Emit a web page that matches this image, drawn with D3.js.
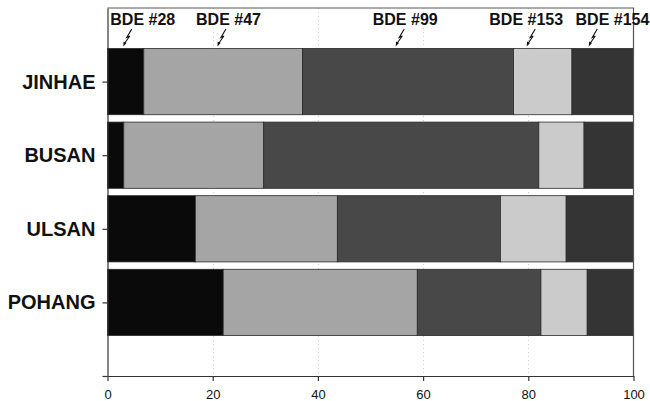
<!DOCTYPE html>
<html>
<head>
<meta charset="utf-8">
<script src="https://cdn.jsdelivr.net/npm/d3@7"></script>
<style>
  html, body { margin: 0; padding: 0; background: #fff; }
  svg { display: block; }
  text { font-family: Arial, "Liberation Sans", sans-serif; }
</style>
</head>
<body>
<svg id="chart" width="650" height="401"></svg>
<script>
// ---- data ----
const categories = ["JINHAE", "BUSAN", "ULSAN", "POHANG"];
const seriesNames = ["BDE #28", "BDE #47", "BDE #99", "BDE #153", "BDE #154"];
const bde28  = [6.9, 3.1, 16.7, 22.0];
const bde47  = [30.2, 26.6, 27.0, 36.9];
const bde99  = [40.1, 52.3, 31.0, 23.5];
const bde153 = [11.1, 8.6, 12.5, 8.8];
const bde154 = [11.7, 9.4, 12.8, 8.8];
const xTicks = [0, 20, 40, 60, 80, 100];
// annotation labels (label centre value, arrow tip value)
const labelCenters = [6.7, 23.0, 56.6, 79.6, 96.0];
const arrowTips = [3.0, 20.9, 54.8, 79.7, 91.5];

const colors = ["#0a0a0a", "#a5a5a5", "#484848", "#cbcbcb", "#343434"];

// ---- layout ----
const svg = d3.select("#chart");
const pLeft = 107.5, pRight = 633.5, pTop = 8, pBottom = 376;

const x = d3.scaleLinear().domain([0, 100]).range([pLeft, pRight]);
const y = d3.scaleLinear().domain([0, 5]).range([pTop, pBottom]);

// table
const seriesVals = [bde28, bde47, bde99, bde153, bde154];
const rows = categories.map((c, i) => {
  const r = { cat: c, idx: i + 1 };
  seriesNames.forEach((s, j) => r[s] = seriesVals[j][i]);
  return r;
});
const stack = d3.stack().keys(seriesNames)(rows);

// gridlines
svg.append("g").selectAll("line")
  .data(xTicks.filter(t => t > 0 && t < 100))
  .join("line")
  .attr("x1", d => Math.round(x(d)) + 0.5).attr("x2", d => Math.round(x(d)) + 0.5)
  .attr("y1", pTop).attr("y2", pBottom)
  .attr("stroke", "#d0d0d0").attr("stroke-width", 1)
  .attr("stroke-dasharray", "1,3");

// bars
const barH = y(0.9) - y(0);
svg.append("g").selectAll("g")
  .data(stack).join("g")
  .attr("fill", (d, i) => colors[i])
  .selectAll("rect")
  .data(d => d).join("rect")
  .attr("x", d => x(d[0]))
  .attr("width", d => x(d[1]) - x(d[0]))
  .attr("y", d => y(d.data.idx) - barH / 2)
  .attr("height", barH)
  .attr("stroke", "#2a2a2a")
  .attr("stroke-width", 0.8);

// frame (top and right)
svg.append("path")
  .attr("d", `M${pLeft},${pTop}H${pRight}V${pBottom}`)
  .attr("fill", "none").attr("stroke", "#555").attr("stroke-width", 1.2);

// x axis
const xAxis = svg.append("g")
  .attr("transform", `translate(0,${pBottom})`)
  .call(d3.axisBottom(x).tickValues(xTicks).tickSize(5).tickSizeOuter(0).tickPadding(8.5));
xAxis.select(".domain").attr("stroke", "#333").attr("stroke-width", 1.2);
xAxis.selectAll(".tick line").attr("stroke", "#333").attr("stroke-width", 1.2);
xAxis.selectAll("text").attr("font-size", 13).attr("fill", "#111")
  .attr("font-family", "Arial, 'Liberation Sans', sans-serif");

// y axis
const yAxis = svg.append("g")
  .attr("transform", `translate(${pLeft},0)`)
  .call(d3.axisLeft(y).tickValues([1, 2, 3, 4, 5])
    .tickFormat(v => categories[v - 1] || "")
    .tickSize(5).tickSizeOuter(0).tickPadding(7));
yAxis.select(".domain").attr("stroke", "#333").attr("stroke-width", 1.2);
yAxis.selectAll(".tick line").attr("stroke", "#333").attr("stroke-width", 1.2);
yAxis.selectAll("text").attr("font-size", 20).attr("font-weight", "bold")
  .attr("fill", "#111")
  .attr("font-family", "Arial, 'Liberation Sans', sans-serif");

// annotations
const ann = svg.append("g");
ann.selectAll("text")
  .data(seriesNames).join("text")
  .attr("x", (d, i) => x(labelCenters[i]))
  .attr("y", 24.5)
  .attr("text-anchor", "middle")
  .attr("font-size", 16).attr("font-weight", "bold").attr("fill", "#111")
  .text(d => d);

ann.selectAll("path.bolt")
  .data(arrowTips).join("path")
  .attr("class", "bolt")
  .attr("d", d => {
    const tx = x(d);
    return `M${tx + 8.5},29 L${tx + 3.5},37.5 L${tx + 6.5},36 L${tx + 1.5},43`;
  })
  .attr("fill", "none").attr("stroke", "#111").attr("stroke-width", 1.1);

ann.selectAll("path.head")
  .data(arrowTips).join("path")
  .attr("class", "head")
  .attr("d", d => {
    const tx = x(d);
    return `M${tx},46.5 L${tx + 0.3},41.5 L${tx + 3.2},43 Z`;
  })
  .attr("fill", "#111");
</script>
</body>
</html>
